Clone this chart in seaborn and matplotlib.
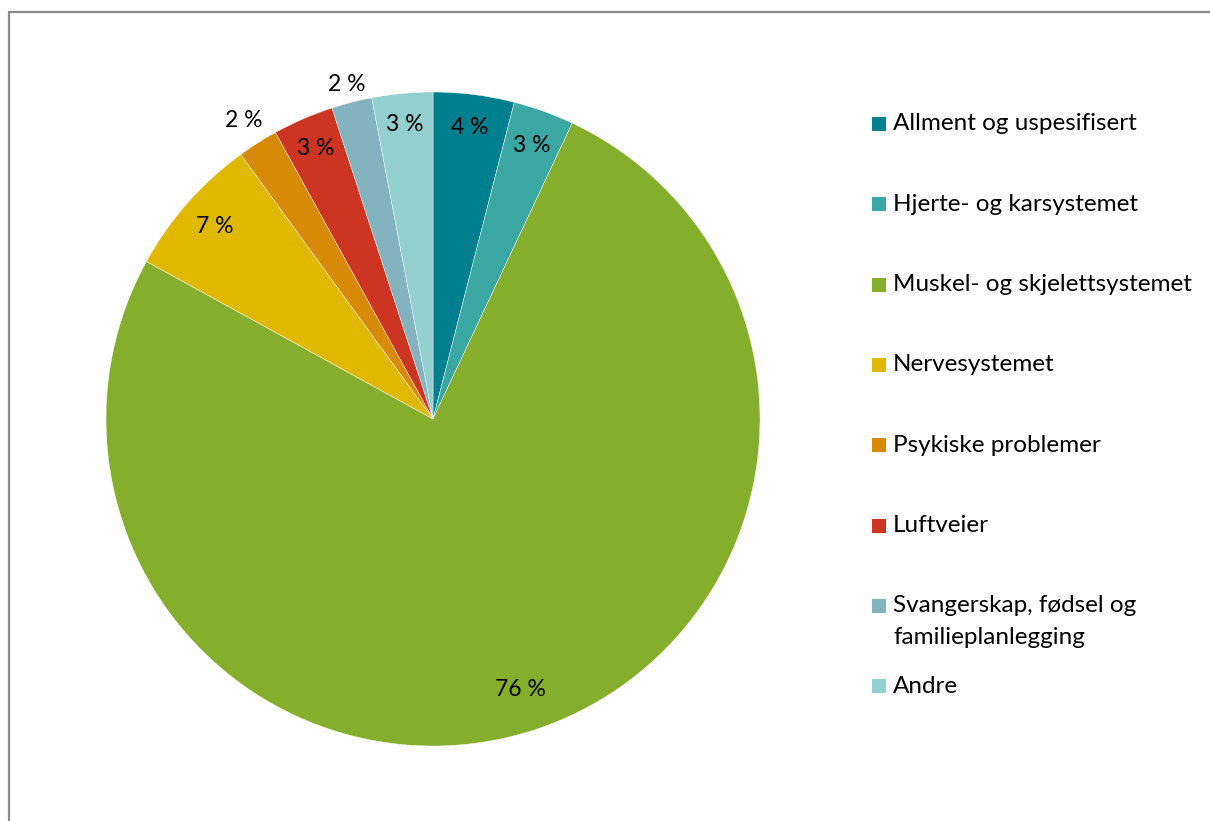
import numpy as np
import matplotlib
matplotlib.use("Agg")
import matplotlib.pyplot as plt
from matplotlib.patches import Rectangle
from matplotlib.lines import Line2D
import seaborn as sns

sns.set_theme(style="white")
plt.rcParams["font.family"] = ["Lato", "DejaVu Sans"]

# Diagnosis groups and their shares (percent)
categories = [
    "Allment og uspesifisert",
    "Hjerte- og karsystemet",
    "Muskel- og skjelettsystemet",
    "Nervesystemet",
    "Psykiske problemer",
    "Luftveier",
    "Svangerskap, fødsel og\nfamilieplanlegging",
    "Andre",
]
shares = [4, 3, 76, 7, 2, 3, 2, 3]
colors = ["#00808F", "#3AA7A3", "#84AE2B", "#E0B800",
          "#D68A06", "#CC3522", "#84B3C0", "#93CFCF"]
# label placement: radius as fraction of pie radius (inside vs. outside)
label_radius = [0.90, 0.89, 0.87, 0.89, 1.08, 0.90, 1.056, 0.905]

W, H = 1210, 821
fig = plt.figure(figsize=(W / 100, H / 100), dpi=100)

# chart-area border (runs off the right and bottom edges)
border = "#8C8C8C"
fig.add_artist(Line2D([9 / W, 1.0], [1 - 12 / H, 1 - 12 / H], color=border, lw=1.6,
                      transform=fig.transFigure))
fig.add_artist(Line2D([9 / W, 9 / W], [0.0, 1 - 12 / H], color=border, lw=1.6,
                      transform=fig.transFigure))

cx, cy, R = 433, 419, 327
ax = fig.add_axes([(cx - R) / W, (H - cy - R) / H, 2 * R / W, 2 * R / H])
wedges, _ = ax.pie(shares, colors=colors, startangle=90, counterclock=False,
                   radius=1.0, wedgeprops=dict(edgecolor="white", linewidth=0.3))
ax.set_xlim(-1, 1)
ax.set_ylim(-1, 1)
ax.set_aspect("equal")
ax.axis("off")

for w, val, r in zip(wedges, shares, label_radius):
    mid = np.deg2rad((w.theta1 + w.theta2) / 2)
    ax.text(r * np.cos(mid), r * np.sin(mid), f"{val} %", ha="center", va="center",
            fontsize=16.5, color="black", clip_on=False)

# legend
lx, ly0, step, line_h = 872, 124, 80.3, 32
for i, (lab, col) in enumerate(zip(categories, colors)):
    y = ly0 + step * i
    fig.add_artist(Rectangle((lx / W, 1 - (y + 7) / H), 14 / W, 14 / H,
                             facecolor=col, edgecolor="none", transform=fig.transFigure))
    for k, part in enumerate(lab.split("\n")):
        fig.text(893 / W, 1 - (y + line_h * k) / H, part, ha="left", va="center",
                 fontsize=17.5, color="black", transform=fig.transFigure)

fig.savefig("out.png", dpi=100, facecolor="white")
